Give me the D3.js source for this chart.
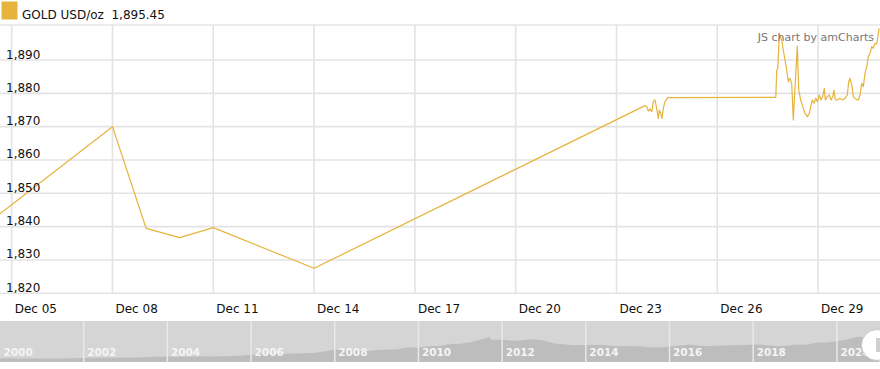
<!DOCTYPE html>
<html><head><meta charset="utf-8">
<script src="https://cdn.jsdelivr.net/npm/d3@7"></script>
<style>
html,body{margin:0;padding:0;background:#fff;}
svg{display:block;font-family:"DejaVu Sans",Verdana,sans-serif;}
</style></head>
<body><svg id="c" width="880" height="369"></svg>
<script>
// ---- data (day of December 2020, price USD/oz) ----
const seriesName = "GOLD USD/oz";
const legendValue = "1,895.45";
const days = [4.0, 8.0, 9.0, 10.0, 11.0, 14.0, 23.85, 23.90, 23.946, 24.0, 24.05, 24.095, 24.146, 24.196, 24.244, 24.274, 24.315, 24.354, 24.393, 24.443, 24.524,
  27.74, 27.77, 27.80, 27.836, 27.866, 27.917, 27.964, 28.015, 28.065, 28.113, 28.164, 28.214, 28.262, 28.292, 28.342, 28.381, 28.423, 28.482, 28.542, 28.61, 28.679, 28.738, 28.78, 28.827, 28.878, 28.929, 28.976,
  29.036, 29.086, 29.137, 29.185, 29.214, 29.274, 29.333, 29.384, 29.435, 29.473, 29.512, 29.571, 29.652, 29.732, 29.8, 29.869, 29.911, 29.95, 30.0, 30.048, 30.128, 30.196, 30.247, 30.298, 30.345, 30.396, 30.446, 30.494, 30.545, 30.595, 30.643, 30.694, 30.744, 30.792, 30.821];
const prices = [1838.8, 1870.0, 1839.5, 1836.7, 1839.7, 1827.5, 1876.3, 1876.0, 1874.7, 1875.3, 1874.5, 1877.5, 1878.0, 1875.5, 1872.5, 1875.0, 1874.0, 1872.5, 1875.5, 1877.5, 1878.7,
  1878.8, 1887.0, 1887.5, 1896.0, 1897.5, 1896.0, 1893.0, 1890.0, 1887.0, 1883.5, 1884.5, 1883.0, 1872.0, 1878.0, 1887.0, 1894.2, 1881.0, 1878.0, 1876.0, 1874.0, 1873.0, 1874.0, 1876.0, 1878.0, 1877.0, 1878.5, 1877.5,
  1879.5, 1878.0, 1879.0, 1881.5, 1878.0, 1879.0, 1879.5, 1878.0, 1879.0, 1881.0, 1878.0, 1878.0, 1878.5, 1878.0, 1878.5, 1879.5, 1883.5, 1884.5, 1882.5, 1879.0, 1878.2, 1878.0, 1879.5, 1883.0, 1882.0, 1886.0, 1888.0, 1891.0, 1892.0, 1894.0, 1893.5, 1895.0, 1894.8, 1898.0, 1899.5];
const viewStartDay = 4.652, viewEndDay = 30.842;
const tickDays = [5, 8, 11, 14, 17, 20, 23, 26, 29];
const yTicks = [1820, 1830, 1840, 1850, 1860, 1870, 1880, 1890];
// scrollbar overview (quarterly, years 2000-2020)
const ovYears = [2000,2000.25,2000.5,2000.75,2001,2001.25,2001.5,2001.75,2002,2002.25,2002.5,2002.75,2003,2003.25,2003.5,2003.75,2004,2004.25,2004.5,2004.75,2005,2005.25,2005.5,2005.75,2006,2006.25,2006.5,2006.75,2007,2007.25,2007.5,2007.75,2008,2008.25,2008.5,2008.75,2009,2009.25,2009.5,2009.75,2010,2010.25,2010.5,2010.75,2011,2011.25,2011.5,2011.68,2011.75,2012,2012.25,2012.5,2012.75,2013,2013.25,2013.5,2013.75,2014,2014.25,2014.5,2014.75,2015,2015.25,2015.5,2015.75,2016,2016.25,2016.5,2016.75,2017,2017.25,2017.5,2017.75,2018,2018.25,2018.5,2018.75,2019,2019.25,2019.5,2019.75,2020,2020.25,2020.5,2020.75,2020.99];
const ovPrices = [285,280,275,270,265,268,275,278,295,315,315,320,350,345,365,390,410,395,400,435,425,430,440,485,555,630,620,615,650,665,680,790,925,895,870,795,910,925,960,1100,1110,1195,1225,1365,1385,1505,1700,1900,1690,1690,1610,1650,1720,1630,1415,1330,1270,1290,1290,1280,1200,1220,1190,1125,1105,1180,1260,1335,1220,1220,1255,1280,1275,1330,1305,1215,1225,1305,1310,1470,1480,1580,1710,1910,1870,1895];
const ovLabels = [2000,2002,2004,2006,2008,2010,2012,2014,2016,2018,2020];

const gold = "#e6b33b";
const svg = d3.select("#c");
const toDate = d => new Date(Date.UTC(2020, 11, 1) + (d - 1) * 86400000);

const plotTop = 25, plotBottom = 293.3;
const x = d3.scaleUtc().domain([toDate(viewStartDay), toDate(viewEndDay)]).range([0, 880]);
const y = d3.scaleLinear().domain([1820, 1890]).range([293.3, 60]);

// grid
const g = svg.append("g");
g.append("line").attr("x1",0).attr("x2",880).attr("y1",plotTop).attr("y2",plotTop).attr("stroke","#e6e6e6").attr("stroke-width",1.5);
g.selectAll(".hg").data(yTicks).join("line").attr("x1",0).attr("x2",880)
  .attr("y1",d=>y(d)).attr("y2",d=>y(d)).attr("stroke","#e3e3e3").attr("stroke-width",1.6);
g.selectAll(".vg").data(tickDays).join("line").attr("x1",d=>x(toDate(d))).attr("x2",d=>x(toDate(d)))
  .attr("y1",plotTop).attr("y2",plotBottom).attr("stroke","#e3e3e3").attr("stroke-width",1.6);

// line
svg.append("clipPath").attr("id","clip").append("rect").attr("x",0).attr("y",plotTop).attr("width",880).attr("height",plotBottom-plotTop);
const pts = days.map((d,i)=>({t:toDate(d), v:prices[i]}));
svg.append("path").datum(pts).attr("clip-path","url(#clip)")
  .attr("fill","none").attr("stroke",gold).attr("stroke-width",1.2).attr("stroke-linejoin","round")
  .attr("d", d3.line().x(p=>x(p.t)).y(p=>y(p.v)));

// y labels
const fmt = d3.format(",");
svg.selectAll(".yl").data(yTicks).join("text").attr("x",6).attr("y",d=>y(d)-1.5)
  .attr("font-size",12).attr("fill","#111").text(d=>fmt(d));

// x labels
const xf = d3.utcFormat("%b %d");
svg.selectAll(".xl").data(tickDays).join("text").attr("x",d=>x(toDate(d))+3).attr("y",313)
  .attr("font-size",12).attr("fill","#111").text(d=>xf(toDate(d)));

// legend
svg.append("rect").attr("x",1.5).attr("y",1.5).attr("width",16).attr("height",18).attr("fill",gold);
svg.append("text").attr("x",22).attr("y",18.5).attr("font-size",12).attr("fill","#111").text(seriesName + "\u00a0 " + legendValue);

// credit
svg.append("text").attr("x",874).attr("y",40.5).attr("text-anchor","end").attr("font-size",11).attr("fill","#777").text("JS chart by amCharts");

// scrollbar
const sbTop = 321, sbBottom = 362;
const sx = d3.scaleLinear().domain([2000, 2021.03]).range([0, 880]);
const sy = d3.scaleLinear().domain([0, 3115]).range([sbBottom, sbTop]);
svg.append("rect").attr("x",0).attr("y",sbTop).attr("width",880).attr("height",sbBottom-sbTop).attr("fill","#d5d5d5");
svg.append("path").datum(ovYears.map((t,i)=>({t, v:ovPrices[i]})))
  .attr("fill","#bdbdbd")
  .attr("d", d3.area().x(p=>sx(p.t)).y0(sbBottom).y1(p=>sy(p.v)));
svg.selectAll(".sep").data(ovLabels.slice(1)).join("line").attr("x1",d=>sx(d)).attr("x2",d=>sx(d))
  .attr("y1",sbTop).attr("y2",sbBottom).attr("stroke","#e9e9e9").attr("stroke-width",1.5);
svg.selectAll(".yr").data(ovLabels).join("text").attr("x",d=>sx(d)+3.5).attr("y",356)
  .attr("font-size",10.5).attr("font-weight","bold").attr("fill","#f4f4f4").text(d=>d);
// handle
svg.append("circle").attr("cx",877).attr("cy",345).attr("r",15.5).attr("fill","#fff").attr("stroke","#c8c8c8").attr("stroke-width",1);
svg.append("rect").attr("x",876).attr("y",338).attr("width",4).attr("height",14).attr("fill","#cfcfcf");
</script></body></html>
